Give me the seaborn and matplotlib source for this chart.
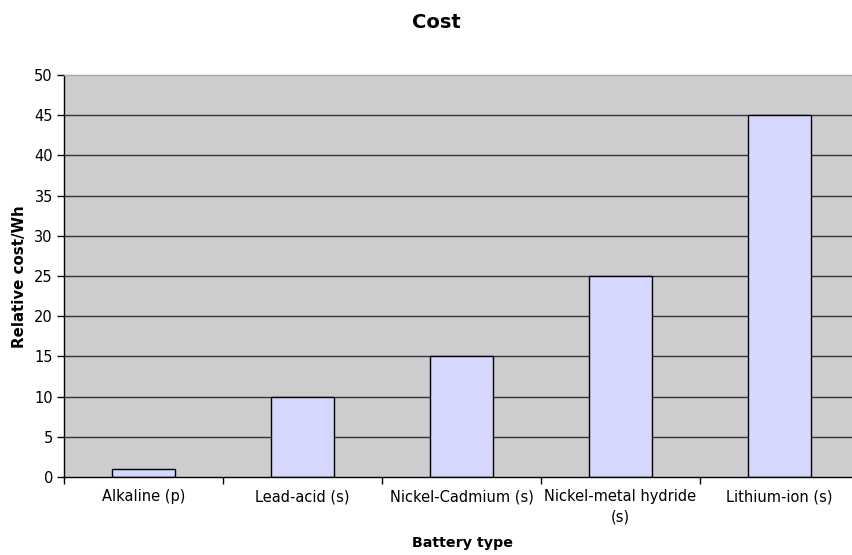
import matplotlib
matplotlib.use("Agg")
import matplotlib.pyplot as plt
import seaborn as sns
import pandas as pd

# Relative cost per watt-hour by battery chemistry
battery_types = ["Alkaline (p)", "Lead-acid (s)", "Nickel-Cadmium (s)",
                 "Nickel-metal hydride\n(s)", "Lithium-ion (s)"]
relative_cost = [1, 10, 15, 25, 45]
y_ticks = [0, 5, 10, 15, 20, 25, 30, 35, 40, 45, 50]

df = pd.DataFrame({"Battery type": battery_types, "Relative cost/Wh": relative_cost})

sns.set_theme(style="white")
plt.rcParams["font.family"] = ["DejaVu Sans"]
plt.rcParams["text.color"] = "black"
plt.rcParams["xtick.color"] = "black"
plt.rcParams["ytick.color"] = "black"

W, H = 852, 555
fig = plt.figure(figsize=(W / 100, H / 100), dpi=100)
left, right, top, bottom = 64, 859, 75, 477
ax = fig.add_axes([left / W, 1 - bottom / H, (right - left) / W, (bottom - top) / H])

sns.barplot(data=df, x="Battery type", y="Relative cost/Wh", ax=ax,
            color="#D5D7FD", edgecolor="black", linewidth=1.0,
            width=0.4, saturation=1)

ax.set_facecolor("#CECCCF")
ax.set_ylim(0, 50)
ax.set_xlim(-0.5, len(battery_types) - 0.5)
ax.set_yticks(y_ticks)
ax.set_yticklabels([str(v) for v in y_ticks], fontsize=10.5)

# category ticks sit on the boundaries between bars
ax.set_xticks([i - 0.5 for i in range(len(battery_types) + 1)], minor=True)
ax.set_xticks(range(len(battery_types)))
ax.set_xticklabels(battery_types, fontsize=10.5, linespacing=1.45)
ax.tick_params(axis="x", which="major", length=0, pad=9)
ax.tick_params(axis="x", which="minor", length=5, width=1, color="black", bottom=True)
ax.tick_params(axis="y", length=5, width=1, color="black", left=True, pad=3)

ax.set_axisbelow(True)
ax.yaxis.grid(True, color="#333333", linewidth=1.0)
ax.xaxis.grid(False)
gl = ax.yaxis.get_gridlines()
gl[0].set_visible(False)
gl[-1].set_visible(False)

for side in ["left", "bottom"]:
    ax.spines[side].set_color("black")
    ax.spines[side].set_linewidth(1.0)
ax.spines["top"].set_color("#A8A8A8")
ax.spines["top"].set_linewidth(1.0)
ax.spines["right"].set_visible(False)

ax.set_xlabel("")
ax.set_ylabel("")
fig.text(20 / W, 1 - 276.5 / H, "Relative cost/Wh", rotation=90, ha="center",
         va="center", fontsize=10.8, fontweight="bold")
fig.text(463 / W, 1 - 543 / H, "Battery type", ha="center", va="center",
         fontsize=10.3, fontweight="bold")
fig.text(436 / W, 1 - 22 / H, "Cost", ha="center", va="center",
         fontsize=14, fontweight="bold")

fig.savefig("out.png", dpi=100, facecolor="white")
